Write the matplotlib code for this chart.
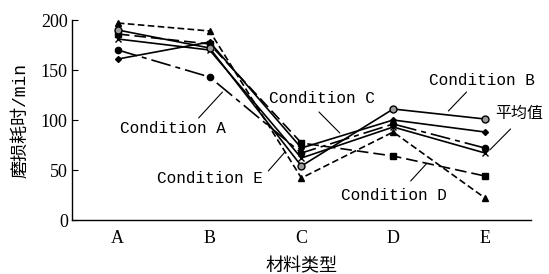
import matplotlib
matplotlib.use("Agg")
import matplotlib.pyplot as plt
import numpy as np

# materials on the x axis
materials = ["A", "B", "C", "D", "E"]

# wear time (min)
cond_a = [170, 143, 67, 96, 72]
cond_b = [190, 172, 54, 111, 101]
cond_c = [161, 178, 72, 100, 88]
cond_d = [186, 176, 77, 64, 44]
cond_e = [197, 189, 42, 88, 22]
average = [181, 170, 62, 93, 67]

LABEL_FONT = ["Liberation Mono", "Noto Sans CJK SC", "DejaVu Sans"]
NUM_FONT = ["Liberation Serif", "DejaVu Serif"]


def draw_series(ax, x, y, marker, dashes, ms, mfc="black"):
    line, = ax.plot(x, y, color="black", lw=1.2, marker=marker, ms=ms,
                    mfc=mfc, mec="black", mew=1.0)
    if dashes is not None:
        line.set_dashes(dashes)
    return line


x = np.arange(len(materials))

fig = plt.figure(figsize=(5.49, 2.74), dpi=100)
ax = fig.add_axes([0.131, 0.197, 0.836, 0.73])

draw_series(ax, x, cond_e, "^", (4, 2), 4.5)
draw_series(ax, x, cond_d, "s", (7, 3), 4)
draw_series(ax, x, cond_a, "o", (12, 3, 3, 3), 4.5)
draw_series(ax, x, cond_c, "D", None, 3)
draw_series(ax, x, average, "x", None, 4.5)
draw_series(ax, x, cond_b, "o", None, 5, mfc="#9a9a9a")

ax.set_xlim(-0.5, 4.5)
ax.set_ylim(0, 200)
ax.set_xticks(x)
ax.set_xticklabels(materials, family=NUM_FONT, fontsize=13)
ax.set_yticks([0, 50, 100, 150, 200])
ax.set_yticklabels(["0", "50", "100", "150", "200"], family=NUM_FONT, fontsize=13)
ax.tick_params(axis="x", length=0, pad=7)
ax.tick_params(axis="y", direction="in", length=4, pad=3)
for side in ["top", "right"]:
    ax.spines[side].set_visible(False)
for side in ["left", "bottom"]:
    ax.spines[side].set_linewidth(1.0)

ax.set_xlabel("材料类型", family=LABEL_FONT, fontsize=13, labelpad=8)
ax.set_ylabel("磨损耗时/min", family=LABEL_FONT, fontsize=13, labelpad=8)

# callouts: (text, text position, leader start, leader end)
callouts = [
    ("Condition A", (0.60, 92), (0.86, 100), (1.16, 130)),
    ("Condition E", (1.00, 42), (1.62, 47), (1.84, 70)),
    ("Condition C", (2.22, 122), (2.17, 110), (2.44, 85)),
    ("Condition B", (3.97, 140), (3.82, 130), (3.58, 107)),
    ("平均值", (4.37, 107), (4.30, 93), (4.03, 68)),
    ("Condition D", (3.01, 25), (3.17, 37), (3.38, 58)),
]
for text, pos, start, end in callouts:
    ax.text(pos[0], pos[1], text, family=LABEL_FONT, fontsize=11.5,
            ha="center", va="center")
    ax.annotate("", xy=end, xytext=start,
                arrowprops=dict(arrowstyle="-", color="black", lw=0.8))

fig.savefig("out.png", dpi=100)
